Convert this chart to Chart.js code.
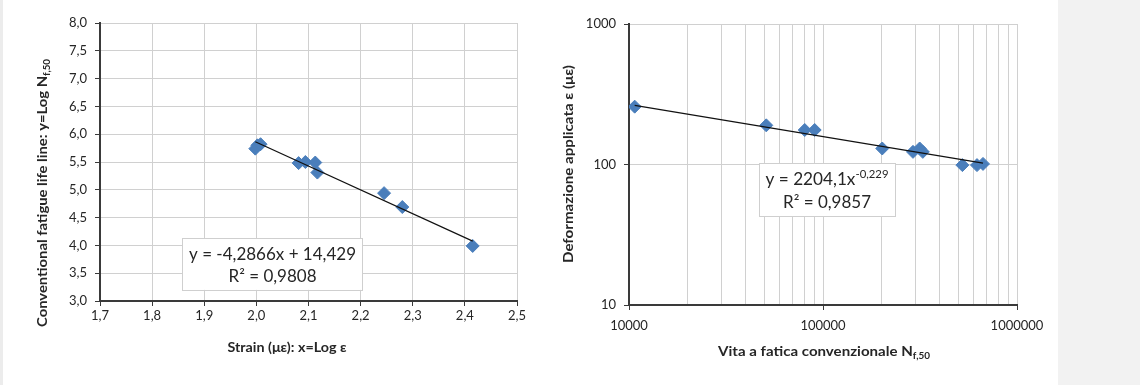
<!DOCTYPE html>
<html>
<head>
<meta charset="utf-8">
<script src="https://cdn.jsdelivr.net/npm/chart.js@4.4.0/dist/chart.umd.min.js"></script>
<style>
  html, body { margin: 0; padding: 0; background: #fff; overflow: hidden; }
  #page { position: relative; width: 1140px; height: 385px; }
  #leftStrip { position: absolute; left: 0; top: 0; width: 3px; height: 385px; background: #ececec; }
  #sidePanel { position: absolute; left: 1058px; top: 0; width: 82px; height: 385px; background: #f2f2f2; }
  #wrapLeft { position: absolute; left: 0; top: 0; width: 540px; height: 385px; }
  #wrapRight { position: absolute; left: 540px; top: 0; width: 518px; height: 385px; }
</style>
</head>
<body>
<div id="page">
  <div id="leftStrip"></div>
  <div id="sidePanel"></div>
  <div id="wrapLeft"><canvas id="chartLeft" width="540" height="385"></canvas></div>
  <div id="wrapRight"><canvas id="chartRight" width="518" height="385"></canvas></div>
</div>
<script>
// left chart: log-log line (x = Log strain, y = Log N)
const strainLog = [1.998, 2.002, 2.008, 2.081, 2.094, 2.113, 2.117, 2.245, 2.280, 2.415];
const lifeLog   = [5.74,  5.80,  5.82,  5.48,  5.50,  5.49,  5.31,  4.94,  4.69,  3.99];
const leftXTicks = [1.7, 1.8, 1.9, 2.0, 2.1, 2.2, 2.3, 2.4, 2.5];
const leftYTicks = [3.0, 3.5, 4.0, 4.5, 5.0, 5.5, 6.0, 6.5, 7.0, 7.5, 8.0];
const leftSlope = -4.2866, leftIntercept = 14.429;

// right chart: strain vs cycles, log axes
const lifeN    = [10700, 51000, 80500, 90600, 202000, 291000, 315000, 327000, 523000, 622000, 668000];
const strainUe = [258,   190,   176,   176,   130,    123,    130,    123,    99,     99,     101];
const rightXTicks = [10000, 20000, 30000, 40000, 50000, 60000, 70000, 80000, 90000,
                     100000, 200000, 300000, 400000, 500000, 600000, 700000, 800000, 900000, 1000000];
const rightXMajor = [10000, 100000, 1000000];
const rightYTicks = [10, 100, 1000];
const rightCoef = 2204.1, rightExp = -0.229;

const FONT = 'Lato, "Open Sans", sans-serif';
const BLUE = '#4a7ebb';
const GRID = '#d0d0d0';
const AXIS = '#3a3a3a';
const TEXT = '#262626';

function fmtComma(v) { return v.toFixed(1).replace('.', ','); }

// draw text made of parts (normal / sub / sup), squeezed to a target width
function drawRich(ctx, parts, cx, cy, width, size, bold, rot) {
  const w = bold ? 'bold ' : '';
  let total = 0;
  const widths = parts.map(p => {
    const s = p.sub || p.sup ? size * 0.66 : size;
    ctx.font = w + s + 'px ' + FONT;
    const m = ctx.measureText(p.t).width;
    total += m;
    return m;
  });
  const sx = width ? width / total : 1;
  ctx.save();
  ctx.translate(cx, cy);
  ctx.rotate(rot || 0);
  ctx.scale(sx, 1);
  ctx.fillStyle = TEXT;
  ctx.textBaseline = 'middle';
  ctx.textAlign = 'left';
  let x = -total / 2;
  parts.forEach((p, i) => {
    const s = p.sub || p.sup ? size * 0.66 : size;
    ctx.font = w + s + 'px ' + FONT;
    let dy = 0;
    if (p.sub) dy = size * 0.3;
    if (p.sup) dy = -size * 0.33;
    ctx.fillText(p.t, x, dy);
    x += widths[i];
  });
  ctx.restore();
}

function trendBox(ctx, x1, y1, x2, y2, line1, line2, w1, w2) {
  ctx.save();
  ctx.fillStyle = '#ffffff';
  ctx.fillRect(x1, y1, x2 - x1, y2 - y1);
  ctx.strokeStyle = '#cfcfcf';
  ctx.lineWidth = 1;
  ctx.strokeRect(Math.round(x1) + 0.5, Math.round(y1) + 0.5, Math.round(x2 - x1), Math.round(y2 - y1));
  ctx.restore();
  const cx = (x1 + x2) / 2;
  drawRich(ctx, line1, cx, y1 + (y2 - y1) * 0.31, w1, 17, false);
  drawRich(ctx, line2, cx, y1 + (y2 - y1) * 0.74, w2, 17, false);
}

const leftDecor = {
  id: 'leftDecor',
  afterDraw(chart) {
    const ctx = chart.ctx, xs = chart.scales.x, ys = chart.scales.y;
    trendBox(ctx, xs.getPixelForValue(1.858), ys.getPixelForValue(4.13),
             xs.getPixelForValue(2.204), ys.getPixelForValue(3.20),
             [{ t: 'y = -4,2866x + 14,429' }],
             [{ t: 'R² = 0,9808' }], 167, 88);
    drawRich(ctx, [{ t: 'Strain (με): x=Log ε' }], 287, 348, 119, 13, true);
    drawRich(ctx, [{ t: 'Conventional fatigue life line: y=Log N' }, { t: 'f,50', sub: true }],
             43, 193, 268, 13, true, -Math.PI / 2);
  }
};

const rightDecor = {
  id: 'rightDecor',
  afterDraw(chart) {
    const ctx = chart.ctx, xs = chart.scales.x, ys = chart.scales.y;
    trendBox(ctx, xs.getPixelForValue(46800), ys.getPixelForValue(102),
             xs.getPixelForValue(235000), ys.getPixelForValue(42.8),
             [{ t: 'y = 2204,1x' }, { t: '-0,229', sup: true }],
             [{ t: 'R² = 0,9857' }], 123, 88);
    drawRich(ctx, [{ t: 'Vita a fatica convenzionale N' }, { t: 'f,50', sub: true }],
             824 - 540, 352, 212, 13, true);
    drawRich(ctx, [{ t: 'Deformazione applicata ε (με)' }],
             569 - 540, 164, 198, 13, true, -Math.PI / 2);
  }
};

function setTicks(list) {
  return function (scale) { scale.ticks = list.map(v => ({ value: v })); };
}

// left chart
const leftTrendX = [strainLog[0], strainLog[strainLog.length - 1]];
new Chart(document.getElementById('chartLeft'), {
  type: 'scatter',
  data: {
    datasets: [
      {
        data: leftTrendX.map(x => ({ x: x, y: leftSlope * x + leftIntercept })),
        showLine: true, borderColor: '#111', borderWidth: 1.2, pointRadius: 0, fill: false
      },
      {
        data: strainLog.map((x, i) => ({ x: x, y: lifeLog[i] })),
        pointStyle: 'rectRot', pointRadius: 6.5, backgroundColor: BLUE, borderColor: BLUE, borderWidth: 1
      }
    ]
  },
  options: {
    responsive: false,
    animation: false,
    devicePixelRatio: 1,
    layout: { padding: { left: 0, right: 23, top: 23, bottom: 0 } },
    plugins: { legend: { display: false }, tooltip: { enabled: false } },
    scales: {
      x: {
        type: 'linear', min: 1.7, max: 2.5,
        afterBuildTicks: setTicks(leftXTicks),
        afterFit: s => { s.height = 84; },
        grid: { color: GRID, tickColor: AXIS, tickLength: 5, lineWidth: 1 },
        border: { color: AXIS, width: 2 },
        ticks: { color: TEXT, font: { family: FONT, size: 13 }, padding: 2, autoSkip: false, maxRotation: 0,
                 callback: v => fmtComma(v) }
      },
      y: {
        type: 'linear', min: 3, max: 8,
        afterBuildTicks: setTicks(leftYTicks),
        afterFit: s => { s.width = 100; },
        grid: { color: GRID, tickColor: AXIS, tickLength: 5, lineWidth: 1 },
        border: { color: AXIS, width: 2 },
        ticks: { color: TEXT, font: { family: FONT, size: 13 }, padding: 8, autoSkip: false,
                 callback: v => fmtComma(v) }
      }
    }
  },
  plugins: [leftDecor]
});

// right chart
const rightTrendX = [lifeN[0], lifeN[lifeN.length - 1]];
new Chart(document.getElementById('chartRight'), {
  type: 'scatter',
  data: {
    datasets: [
      {
        data: rightTrendX.map(x => ({ x: x, y: rightCoef * Math.pow(x, rightExp) })),
        showLine: true, borderColor: '#111', borderWidth: 1.2, pointRadius: 0, fill: false
      },
      {
        data: lifeN.map((x, i) => ({ x: x, y: strainUe[i] })),
        pointStyle: 'rectRot', pointRadius: 6.5, backgroundColor: BLUE, borderColor: BLUE, borderWidth: 1
      }
    ]
  },
  options: {
    responsive: false,
    animation: false,
    devicePixelRatio: 1,
    layout: { padding: { left: 0, right: 41, top: 24, bottom: 0 } },
    plugins: { legend: { display: false }, tooltip: { enabled: false } },
    scales: {
      x: {
        type: 'logarithmic', min: 10000, max: 1000000,
        afterBuildTicks: setTicks(rightXTicks),
        afterFit: s => { s.height = 80; },
        grid: {
          color: GRID, lineWidth: 1, tickLength: 5,
          tickColor: c => rightXMajor.includes(c.tick && c.tick.value) ? AXIS : 'rgba(0,0,0,0)'
        },
        border: { color: AXIS, width: 2 },
        ticks: { color: TEXT, font: { family: FONT, size: 13 }, padding: 8, autoSkip: false, maxRotation: 0,
                 callback: v => rightXMajor.includes(v) ? String(v) : '' }
      },
      y: {
        type: 'logarithmic', min: 10, max: 1000,
        afterBuildTicks: setTicks(rightYTicks),
        afterFit: s => { s.width = 89; },
        grid: { color: GRID, tickColor: AXIS, tickLength: 5, lineWidth: 1 },
        border: { color: AXIS, width: 2 },
        ticks: { color: TEXT, font: { family: FONT, size: 13 }, padding: 8, autoSkip: false,
                 callback: v => String(v) }
      }
    }
  },
  plugins: [rightDecor]
});
</script>
</body>
</html>
